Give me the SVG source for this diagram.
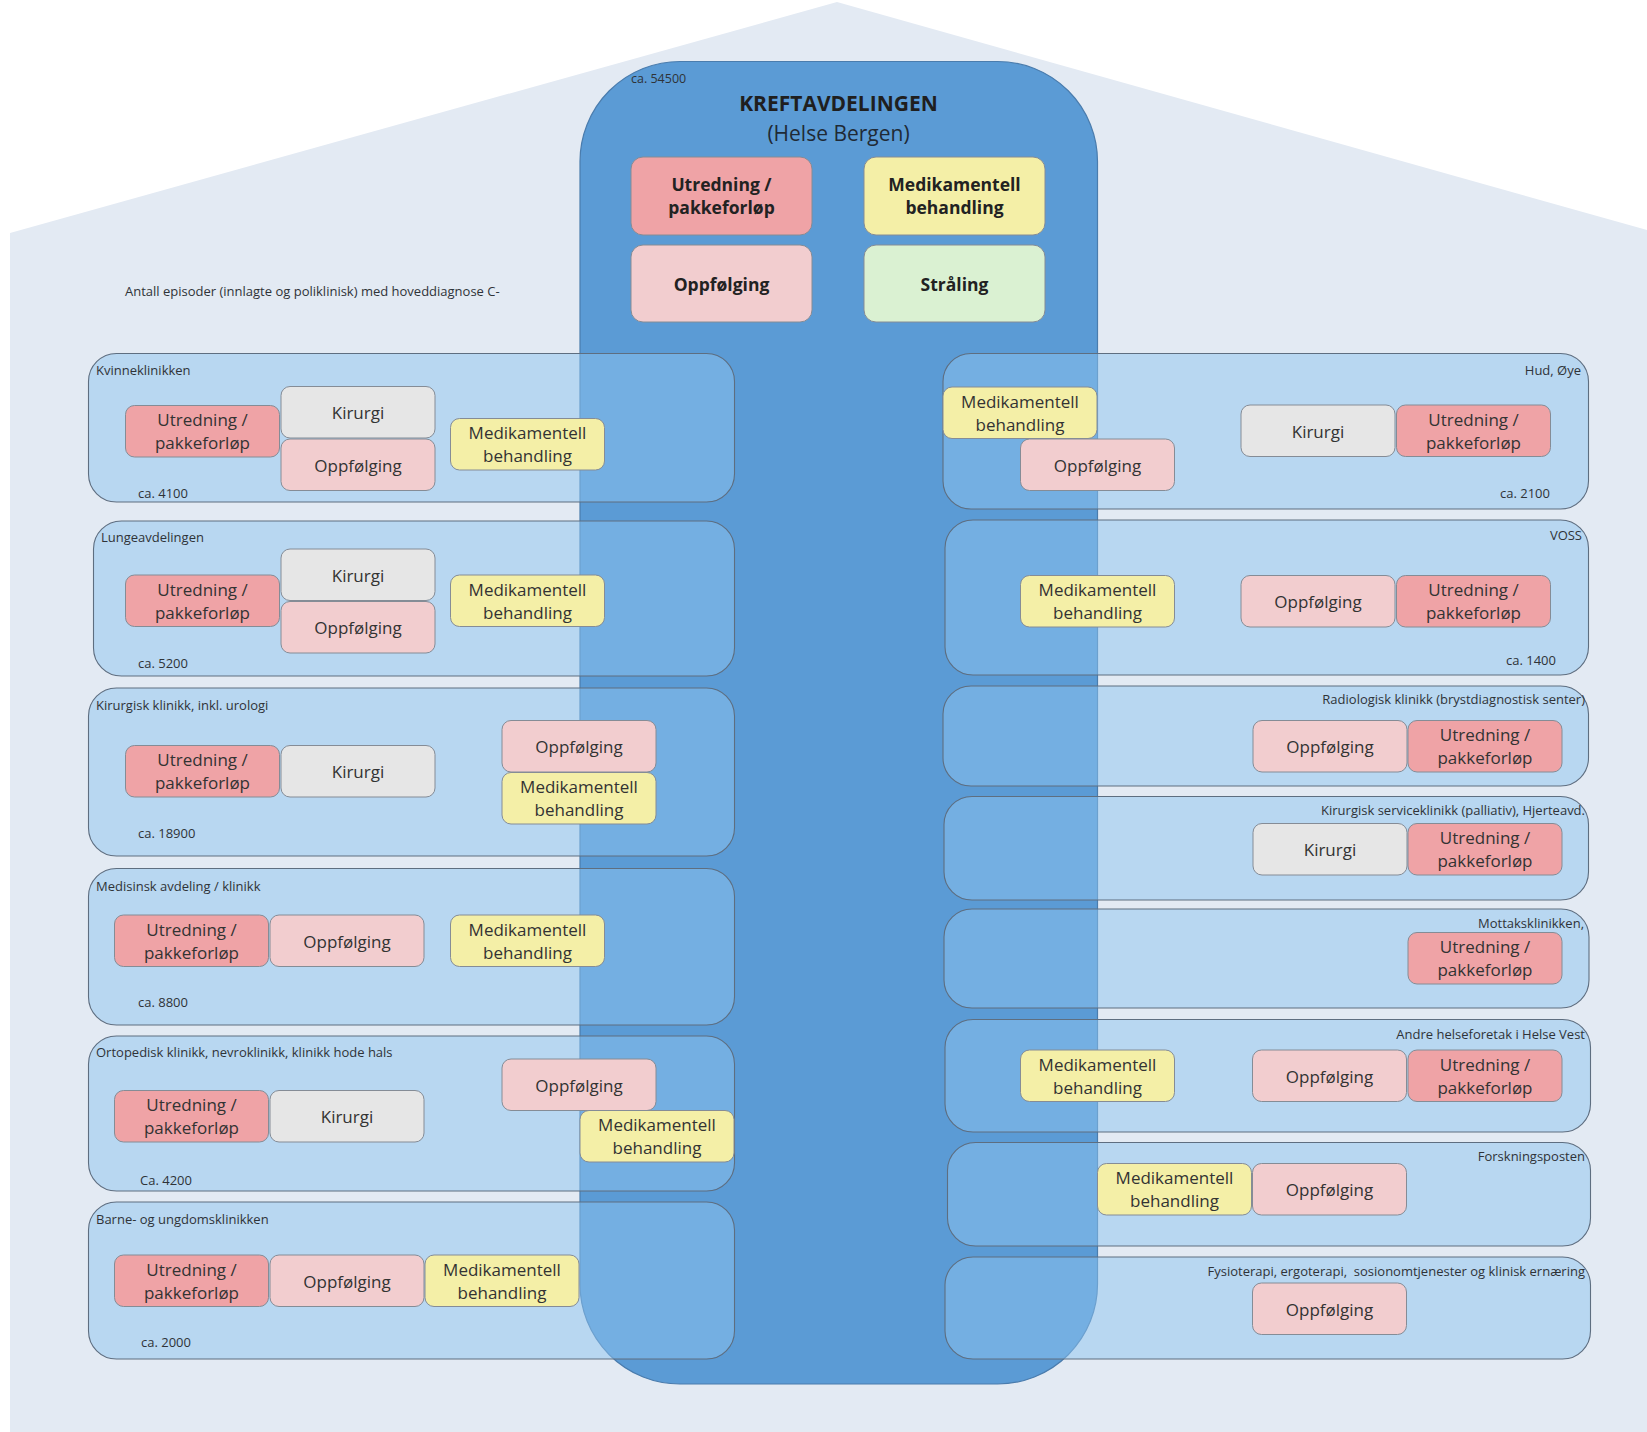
<svg xmlns="http://www.w3.org/2000/svg" width="1647" height="1432" viewBox="0 0 1647 1432">
<style>
text{font-family:"Open Sans","Noto Sans","Liberation Sans",sans-serif;}
.bg{fill:#E3EAF3;}
.central{fill:#5B9BD5;stroke:#4A7CAD;stroke-width:1.2;}
.dept{fill:rgb(141,196,240);fill-opacity:0.5;stroke:#5E6E80;stroke-width:1.1;}
.box{stroke:#858C96;stroke-width:1;}
.utr{fill:#EFA3A6;}
.opp{fill:#F2CDCF;}
.kir{fill:#E6E6E6;}
.med{fill:#F4EFA7;}
.str{fill:#DAF1D2;}
.t{font-size:17px;fill:#333333;text-anchor:middle;}
.tb{font-size:17.5px;font-weight:bold;fill:#222222;text-anchor:middle;}
.lbl{font-size:13px;fill:#2F3338;}
.lr{font-size:13px;fill:#2F3338;text-anchor:end;white-space:pre;}
</style>
<polygon class="bg" points="10,233 837,2 1647,230 1647,1432 10,1432"/>
<g id="kreftavdelingen">
<rect class="central" x="580" y="61.5" width="517.5" height="1322.5" rx="100" ry="100"/>
<text class="lbl" x="631" y="82.5" style="font-size:12.5px">ca. 54500</text>
<text x="838.5" y="111" style="font-size:21px;font-weight:bold;fill:#1F1F1F;text-anchor:middle">KREFTAVDELINGEN</text>
<text x="838.5" y="141" style="font-size:21px;fill:#1F2A36;text-anchor:middle">(Helse Bergen)</text>
<g id="k-utredning"><rect class="box utr" x="631" y="157" width="181" height="78" rx="12"/><text class="tb" x="721.5" y="191">Utredning /</text><text class="tb" x="721.5" y="214">pakkeforløp</text></g>
<g id="k-medikamentell"><rect class="box med" x="864" y="157" width="181" height="78" rx="12"/><text class="tb" x="954.5" y="191">Medikamentell</text><text class="tb" x="954.5" y="214">behandling</text></g>
<g id="k-oppfolging"><rect class="box opp" x="631" y="245" width="181" height="77" rx="12"/><text class="tb" x="721.5" y="290.5">Oppfølging</text></g>
<g id="k-straling"><rect class="box str" x="864" y="245" width="181" height="77" rx="12"/><text class="tb" x="954.5" y="290.5">Stråling</text></g>
</g>
<text id="antall" class="lbl" x="125" y="295.5">Antall episoder (innlagte og poliklinisk) med hoveddiagnose C-</text>

<g id="kvinneklinikken">
<rect class="dept" x="88.5" y="353.5" width="646" height="148.5" rx="28"/>
<text class="lbl" x="96" y="374.5">Kvinneklinikken</text>
<text class="lbl" x="138" y="497.5">ca. 4100</text>
<g id="kv-utr"><rect class="box utr" x="125.5" y="405.5" width="154" height="51.5" rx="9"/><text class="t" x="202.5" y="426">Utredning /</text><text class="t" x="202.5" y="449">pakkeforløp</text></g>
<g id="kv-kir"><rect class="box kir" x="281" y="386.5" width="154" height="51.5" rx="9"/><text class="t" x="358" y="419">Kirurgi</text></g>
<g id="kv-opp"><rect class="box opp" x="281" y="439" width="154" height="51.5" rx="9"/><text class="t" x="358" y="471.5">Oppfølging</text></g>
<g id="kv-med"><rect class="box med" x="450.5" y="418.5" width="154" height="51.5" rx="9"/><text class="t" x="527.5" y="439">Medikamentell</text><text class="t" x="527.5" y="462">behandling</text></g>
</g>

<g id="lungeavdelingen">
<rect class="dept" x="93.5" y="521" width="641" height="155" rx="28"/>
<text class="lbl" x="101" y="541.5">Lungeavdelingen</text>
<text class="lbl" x="138" y="667.5">ca. 5200</text>
<g id="lu-kir"><rect class="box kir" x="281" y="549" width="154" height="51.5" rx="9"/><text class="t" x="358" y="581.5">Kirurgi</text></g>
<g id="lu-utr"><rect class="box utr" x="125.5" y="575" width="154" height="51.5" rx="9"/><text class="t" x="202.5" y="595.5">Utredning /</text><text class="t" x="202.5" y="618.5">pakkeforløp</text></g>
<g id="lu-opp"><rect class="box opp" x="281" y="601.5" width="154" height="51.5" rx="9"/><text class="t" x="358" y="634">Oppfølging</text></g>
<g id="lu-med"><rect class="box med" x="450.5" y="575" width="154" height="51.5" rx="9"/><text class="t" x="527.5" y="595.5">Medikamentell</text><text class="t" x="527.5" y="618.5">behandling</text></g>
</g>

<g id="kirurgisk-klinikk">
<rect class="dept" x="88.5" y="688" width="646" height="168" rx="28"/>
<text class="lbl" x="96" y="709.5">Kirurgisk klinikk, inkl. urologi</text>
<text class="lbl" x="138" y="837.5">ca. 18900</text>
<g id="ki-utr"><rect class="box utr" x="125.5" y="745.5" width="154" height="51.5" rx="9"/><text class="t" x="202.5" y="766">Utredning /</text><text class="t" x="202.5" y="789">pakkeforløp</text></g>
<g id="ki-kir"><rect class="box kir" x="281" y="745.5" width="154" height="51.5" rx="9"/><text class="t" x="358" y="778">Kirurgi</text></g>
<g id="ki-opp"><rect class="box opp" x="502" y="720.5" width="154" height="51.5" rx="9"/><text class="t" x="579" y="753">Oppfølging</text></g>
<g id="ki-med"><rect class="box med" x="502" y="772.5" width="154" height="51.5" rx="9"/><text class="t" x="579" y="793">Medikamentell</text><text class="t" x="579" y="816">behandling</text></g>
</g>

<g id="medisinsk">
<rect class="dept" x="88.5" y="868.5" width="646" height="156.5" rx="28"/>
<text class="lbl" x="96" y="890.5">Medisinsk avdeling / klinikk</text>
<text class="lbl" x="138" y="1007">ca. 8800</text>
<g id="me-utr"><rect class="box utr" x="114.5" y="915" width="154" height="51.5" rx="9"/><text class="t" x="191.5" y="935.5">Utredning /</text><text class="t" x="191.5" y="958.5">pakkeforløp</text></g>
<g id="me-opp"><rect class="box opp" x="270" y="915" width="154" height="51.5" rx="9"/><text class="t" x="347" y="947.5">Oppfølging</text></g>
<g id="me-med"><rect class="box med" x="450.5" y="915" width="154" height="51.5" rx="9"/><text class="t" x="527.5" y="935.5">Medikamentell</text><text class="t" x="527.5" y="958.5">behandling</text></g>
</g>

<g id="ortopedisk">
<rect class="dept" x="88.5" y="1036" width="646" height="155" rx="28"/>
<text class="lbl" x="96" y="1057">Ortopedisk klinikk, nevroklinikk, klinikk hode hals</text>
<text class="lbl" x="140" y="1184.5">Ca. 4200</text>
<g id="or-utr"><rect class="box utr" x="114.5" y="1090.5" width="154" height="51.5" rx="9"/><text class="t" x="191.5" y="1111">Utredning /</text><text class="t" x="191.5" y="1134">pakkeforløp</text></g>
<g id="or-kir"><rect class="box kir" x="270" y="1090.5" width="154" height="51.5" rx="9"/><text class="t" x="347" y="1123">Kirurgi</text></g>
<g id="or-opp"><rect class="box opp" x="502" y="1059" width="154" height="51.5" rx="9"/><text class="t" x="579" y="1091.5">Oppfølging</text></g>
<g id="or-med"><rect class="box med" x="580" y="1110.5" width="154" height="51.5" rx="9"/><text class="t" x="657" y="1131">Medikamentell</text><text class="t" x="657" y="1154">behandling</text></g>
</g>

<g id="barne">
<rect class="dept" x="88.5" y="1202" width="646" height="157" rx="28"/>
<text class="lbl" x="96" y="1223.5">Barne- og ungdomsklinikken</text>
<text class="lbl" x="141" y="1346.5">ca. 2000</text>
<g id="ba-utr"><rect class="box utr" x="114.5" y="1255" width="154" height="51.5" rx="9"/><text class="t" x="191.5" y="1275.5">Utredning /</text><text class="t" x="191.5" y="1298.5">pakkeforløp</text></g>
<g id="ba-opp"><rect class="box opp" x="270" y="1255" width="154" height="51.5" rx="9"/><text class="t" x="347" y="1287.5">Oppfølging</text></g>
<g id="ba-med"><rect class="box med" x="425" y="1255" width="154" height="51.5" rx="9"/><text class="t" x="502" y="1275.5">Medikamentell</text><text class="t" x="502" y="1298.5">behandling</text></g>
</g>

<g id="hud-oye">
<rect class="dept" x="943" y="353.5" width="645.5" height="155.5" rx="28"/>
<text class="lr" x="1581" y="374.5">Hud, Øye</text>
<text class="lr" x="1550" y="497.5">ca. 2100</text>
<g id="hu-med"><rect class="box med" x="943" y="387" width="154" height="51.5" rx="9"/><text class="t" x="1020" y="407.5">Medikamentell</text><text class="t" x="1020" y="430.5">behandling</text></g>
<g id="hu-opp"><rect class="box opp" x="1020.5" y="439" width="154" height="51.5" rx="9"/><text class="t" x="1097.5" y="471.5">Oppfølging</text></g>
<g id="hu-kir"><rect class="box kir" x="1241" y="405" width="154" height="51.5" rx="9"/><text class="t" x="1318" y="437.5">Kirurgi</text></g>
<g id="hu-utr"><rect class="box utr" x="1396.5" y="405" width="154" height="51.5" rx="9"/><text class="t" x="1473.5" y="425.5">Utredning /</text><text class="t" x="1473.5" y="448.5">pakkeforløp</text></g>
</g>

<g id="voss">
<rect class="dept" x="945" y="520" width="643.5" height="155" rx="28"/>
<text class="lr" x="1582" y="540">VOSS</text>
<text class="lr" x="1556" y="664.5">ca. 1400</text>
<g id="vo-med"><rect class="box med" x="1020.5" y="575.5" width="154" height="51.5" rx="9"/><text class="t" x="1097.5" y="596">Medikamentell</text><text class="t" x="1097.5" y="619">behandling</text></g>
<g id="vo-opp"><rect class="box opp" x="1241" y="575.5" width="154" height="51.5" rx="9"/><text class="t" x="1318" y="608">Oppfølging</text></g>
<g id="vo-utr"><rect class="box utr" x="1396.5" y="575.5" width="154" height="51.5" rx="9"/><text class="t" x="1473.5" y="596">Utredning /</text><text class="t" x="1473.5" y="619">pakkeforløp</text></g>
</g>

<g id="radiologisk">
<rect class="dept" x="943" y="686" width="645.5" height="100" rx="28"/>
<text class="lr" x="1585" y="704">Radiologisk klinikk (brystdiagnostisk senter)</text>
<g id="ra-opp"><rect class="box opp" x="1253" y="720.5" width="154" height="51.5" rx="9"/><text class="t" x="1330" y="753">Oppfølging</text></g>
<g id="ra-utr"><rect class="box utr" x="1408" y="720.5" width="154" height="51.5" rx="9"/><text class="t" x="1485" y="741">Utredning /</text><text class="t" x="1485" y="764">pakkeforløp</text></g>
</g>

<g id="kirurgisk-service">
<rect class="dept" x="944" y="796.5" width="644.5" height="103.5" rx="28"/>
<text class="lr" x="1585" y="815">Kirurgisk serviceklinikk (palliativ), Hjerteavd.</text>
<g id="ks-kir"><rect class="box kir" x="1253" y="823.5" width="154" height="51.5" rx="9"/><text class="t" x="1330" y="856">Kirurgi</text></g>
<g id="ks-utr"><rect class="box utr" x="1408" y="823.5" width="154" height="51.5" rx="9"/><text class="t" x="1485" y="844">Utredning /</text><text class="t" x="1485" y="867">pakkeforløp</text></g>
</g>

<g id="mottaksklinikken">
<rect class="dept" x="944" y="909" width="645" height="99" rx="28"/>
<text class="lr" x="1584" y="928">Mottaksklinikken,</text>
<g id="mo-utr"><rect class="box utr" x="1408" y="932.5" width="154" height="51.5" rx="9"/><text class="t" x="1485" y="953">Utredning /</text><text class="t" x="1485" y="976">pakkeforløp</text></g>
</g>

<g id="andre-helseforetak">
<rect class="dept" x="945" y="1019.5" width="645.5" height="112.5" rx="28"/>
<text class="lr" x="1585" y="1038.5">Andre helseforetak i Helse Vest</text>
<g id="an-med"><rect class="box med" x="1020.5" y="1050" width="154" height="51.5" rx="9"/><text class="t" x="1097.5" y="1070.5">Medikamentell</text><text class="t" x="1097.5" y="1093.5">behandling</text></g>
<g id="an-opp"><rect class="box opp" x="1252.5" y="1050" width="154" height="51.5" rx="9"/><text class="t" x="1329.5" y="1082.5">Oppfølging</text></g>
<g id="an-utr"><rect class="box utr" x="1408" y="1050" width="154" height="51.5" rx="9"/><text class="t" x="1485" y="1070.5">Utredning /</text><text class="t" x="1485" y="1093.5">pakkeforløp</text></g>
</g>

<g id="forskningsposten">
<rect class="dept" x="947.5" y="1142.5" width="643" height="103.5" rx="28"/>
<text class="lr" x="1585" y="1161">Forskningsposten</text>
<g id="fo-med"><rect class="box med" x="1097.5" y="1163.5" width="154" height="51.5" rx="9"/><text class="t" x="1174.5" y="1184">Medikamentell</text><text class="t" x="1174.5" y="1207">behandling</text></g>
<g id="fo-opp"><rect class="box opp" x="1252.5" y="1163.5" width="154" height="51.5" rx="9"/><text class="t" x="1329.5" y="1196">Oppfølging</text></g>
</g>

<g id="fysioterapi">
<rect class="dept" x="945" y="1257" width="645.5" height="102" rx="28"/>
<text class="lr" x="1585" y="1275.5">Fysioterapi, ergoterapi,  sosionomtjenester og klinisk ernæring</text>
<g id="fy-opp"><rect class="box opp" x="1252.5" y="1283" width="154" height="51.5" rx="9"/><text class="t" x="1329.5" y="1315.5">Oppfølging</text></g>
</g>

<g id="connectors"/>
</svg>
